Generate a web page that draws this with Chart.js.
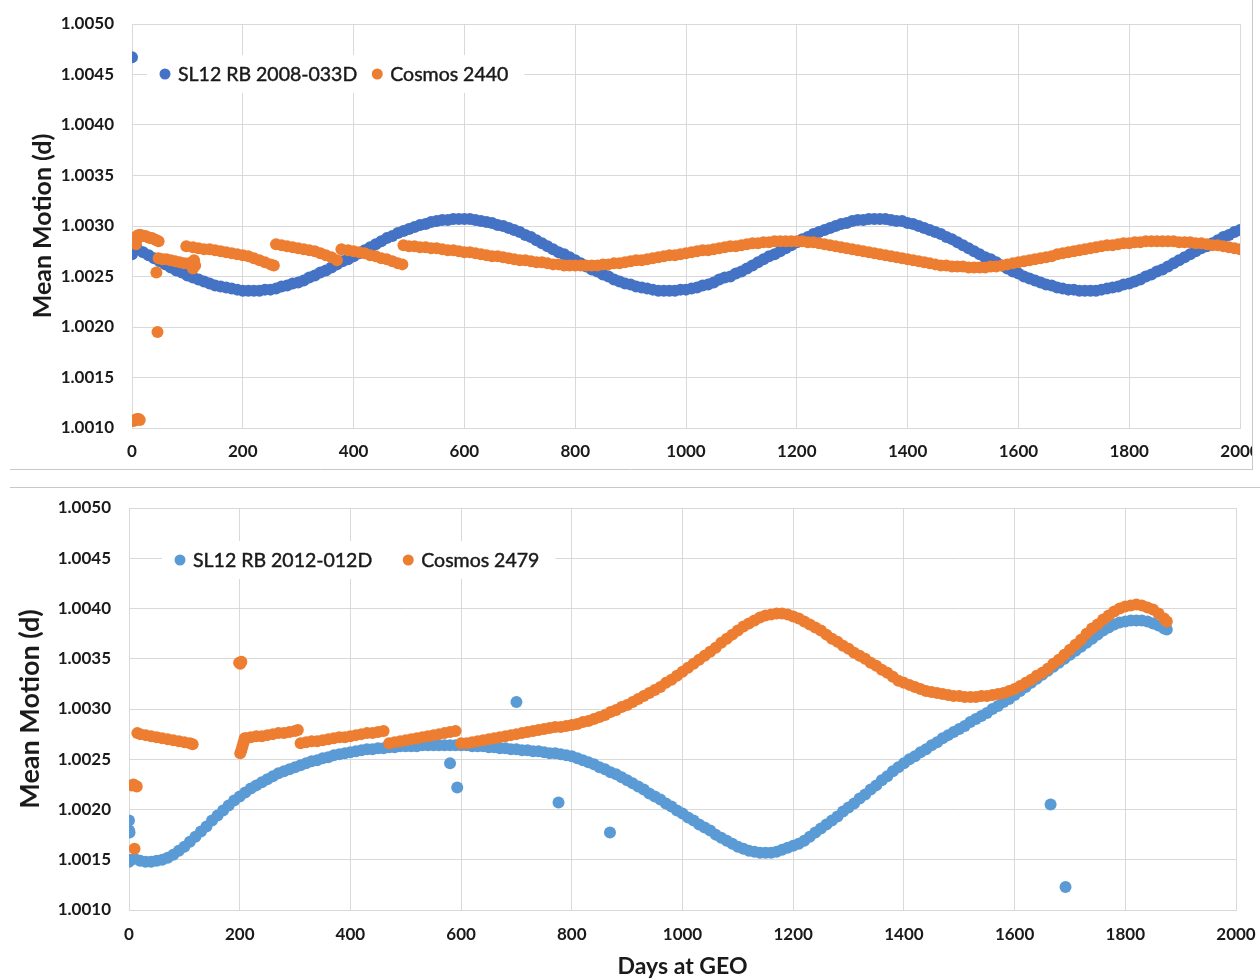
<!DOCTYPE html>
<html>
<head>
<meta charset="utf-8">
<title>Mean Motion at GEO</title>
<script src="https://cdn.jsdelivr.net/npm/chart.js@4.4.1/dist/chart.umd.min.js"></script>
<style>
  html, body { margin: 0; padding: 0; background: #ffffff; }
  #wrap { position: relative; width: 1260px; height: 980px; overflow: hidden; }
  canvas { position: absolute; left: 0; }
  #topChart { top: -10px; }
  #bottomChart { top: 470px; }
</style>
</head>
<body>
<div id="wrap">
  <canvas id="topChart" width="1290" height="480"></canvas>
  <canvas id="bottomChart" width="1290" height="510"></canvas>
</div>
<script>
// ---------- Upper panel: SL12 RB 2008-033D and Cosmos 2440 ----------
const topDays = [
  0,10,20,30,40,50,60,70,80,90,100,110,120,130,140,150,160,170,180,190,
  200,210,220,230,240,250,260,270,280,290,300,310,320,330,340,350,360,370,380,390,
  400,410,420,430,440,450,460,470,480,490,500,510,520,530,540,550,560,570,580,590,
  600,610,620,630,640,650,660,670,680,690,700,710,720,730,740,750,760,770,780,790,
  800,810,820,830,840,850,860,870,880,890,900,910,920,930,940,950,960,970,980,990,
  1000,1010,1020,1030,1040,1050,1060,1070,1080,1090,1100,1110,1120,1130,1140,1150,1160,1170,1180,1190,
  1200,1210,1220,1230,1240,1250,1260,1270,1280,1290,1300,1310,1320,1330,1340,1350,1360,1370,1380,1390,
  1400,1410,1420,1430,1440,1450,1460,1470,1480,1490,1500,1510,1520,1530,1540,1550,1560,1570,1580,1590,
  1600,1610,1620,1630,1640,1650,1660,1670,1680,1690,1700,1710,1720,1730,1740,1750,1760,1770,1780,1790,
  1800,1810,1820,1830,1840,1850,1860,1870,1880,1890,1900,1910,1920,1930,1940,1950,1960,1970,1980,1990,
  2000
];

const sl12Rb2008Motion = [
  1.00279,1.00277,1.00274,1.00271,1.00268,1.00265,1.00262,1.00259,1.00256,1.00254,
  1.00251,1.00249,1.00247,1.00245,1.00243,1.00241,1.00240,1.00239,1.00238,1.00237,
  1.00236,1.00236,1.00236,1.00236,1.00237,1.00237,1.00238,1.00240,1.00241,1.00243,
  1.00244,1.00246,1.00249,1.00251,1.00254,1.00256,1.00259,1.00262,1.00265,1.00267,
  1.00270,1.00273,1.00276,1.00279,1.00282,1.00285,1.00288,1.00290,1.00293,1.00295,
  1.00297,1.00299,1.00301,1.00302,1.00304,1.00305,1.00306,1.00306,1.00307,1.00307,
  1.00307,1.00307,1.00306,1.00305,1.00304,1.00303,1.00301,1.00300,1.00298,1.00296,
  1.00294,1.00291,1.00289,1.00286,1.00283,1.00280,1.00277,1.00274,1.00272,1.00269,
  1.00266,1.00263,1.00260,1.00257,1.00255,1.00252,1.00250,1.00247,1.00245,1.00243,
  1.00242,1.00240,1.00239,1.00238,1.00237,1.00236,1.00236,1.00236,1.00236,1.00237,
  1.00237,1.00238,1.00239,1.00241,1.00242,1.00244,1.00247,1.00249,1.00250,1.00253,
  1.00255,1.00258,1.00261,1.00264,1.00267,1.00270,1.00272,1.00275,1.00278,1.00281,
  1.00284,1.00287,1.00289,1.00292,1.00294,1.00296,1.00298,1.00300,1.00302,1.00303,
  1.00305,1.00306,1.00306,1.00307,1.00307,1.00307,1.00307,1.00306,1.00305,1.00305,
  1.00303,1.00302,1.00300,1.00298,1.00296,1.00294,1.00292,1.00289,1.00287,1.00284,
  1.00281,1.00278,1.00275,1.00272,1.00269,1.00267,1.00264,1.00261,1.00258,1.00255,
  1.00253,1.00250,1.00248,1.00246,1.00244,1.00242,1.00241,1.00239,1.00238,1.00237,
  1.00237,1.00236,1.00236,1.00236,1.00236,1.00237,1.00238,1.00239,1.00240,1.00242,
  1.00243,1.00245,1.00247,1.00250,1.00252,1.00255,1.00257,1.00260,1.00263,1.00266,
  1.00269,1.00272,1.00275,1.00278,1.00280,1.00283,1.00286,1.00289,1.00291,1.00294,
  1.00296
];
const sl12Rb2008ExtraDays   = [0, 0, 0, 2];
const sl12Rb2008ExtraMotion = [1.00467, 1.00282, 1.00272, 1.00278];

// Station-keeping segments in the first ~490 days
const cosmos2440EarlyDays = [
  3,6,9,12,14,
  7,8,9,12,16,20,24,28,32,36,40,44,48,
  44,46,
  48,55,62,70,78,86,94,102,108,110,112,114,
  98,110,120,130,140,150,160,170,180,190,200,210,220,230,240,250,256,
  260,270,280,290,300,310,320,330,340,350,360,370,
  378,390,400,410,420,430,440,450,460,470,480,488
];
const cosmos2440EarlyMotion = [
  1.00107,1.00108,1.00109,1.00109,1.00108,
  1.00282,1.00286,1.00290,1.00291,1.00291,1.00290,1.00290,1.00289,1.00288,1.00288,1.00287,1.00286,1.00285,
  1.00254,1.00195,
  1.00268,1.00267,1.00267,1.00266,1.00265,1.00264,1.00263,1.00263,1.00262,1.00258,1.00266,1.00261,
  1.00280,1.00279,1.00278,1.00277,1.00277,1.00276,1.00275,1.00274,1.00273,1.00272,1.00271,1.00270,1.00268,1.00266,1.00264,1.00262,1.00261,
  1.00282,1.00281,1.00280,1.00279,1.00278,1.00277,1.00276,1.00275,1.00273,1.00271,1.00269,1.00266,
  1.00277,1.00276,1.00275,1.00274,1.00273,1.00271,1.00270,1.00268,1.00267,1.00265,1.00263,1.00262
];
const cosmos2440TailDays = topDays.slice(49);
const cosmos2440TailMotion = [
  1.00281,1.00280,1.00280,1.00279,1.00279,1.00278,1.00278,1.00277,1.00276,1.00276,1.00275,
  1.00274,1.00274,1.00273,1.00272,1.00271,1.00270,1.00270,1.00269,1.00268,1.00267,
  1.00266,1.00266,1.00265,1.00264,1.00264,1.00263,1.00262,1.00262,1.00261,1.00261,
  1.00261,1.00261,1.00261,1.00261,1.00261,1.00262,1.00262,1.00263,1.00263,1.00264,
  1.00265,1.00266,1.00266,1.00267,1.00268,1.00269,1.00270,1.00271,1.00271,1.00272,
  1.00273,1.00274,1.00275,1.00276,1.00276,1.00277,1.00278,1.00279,1.00280,1.00280,
  1.00281,1.00282,1.00283,1.00283,1.00284,1.00284,1.00285,1.00285,1.00285,1.00285,
  1.00285,1.00285,1.00284,1.00284,1.00283,1.00282,1.00281,1.00280,1.00279,1.00278,
  1.00277,1.00276,1.00275,1.00274,1.00273,1.00272,1.00271,1.00270,1.00269,1.00268,
  1.00267,1.00266,1.00265,1.00264,1.00263,1.00262,1.00261,1.00261,1.00260,1.00260,
  1.00260,1.00259,1.00259,1.00259,1.00259,1.00260,1.00260,1.00261,1.00262,1.00263,
  1.00264,1.00265,1.00266,1.00267,1.00268,1.00269,1.00270,1.00272,1.00273,1.00274,
  1.00275,1.00276,1.00277,1.00278,1.00279,1.00280,1.00281,1.00281,1.00282,1.00283,
  1.00283,1.00284,1.00284,1.00285,1.00285,1.00285,1.00285,1.00285,1.00285,1.00284,
  1.00284,1.00284,1.00283,1.00283,1.00282,1.00281,1.00281,1.00280,1.00279,1.00278,
  1.00277
];

// ---------- Lower panel: SL12 RB 2012-012D and Cosmos 2479 ----------
const bottomDays = topDays.slice(0, 188);   // 0 … 1870

const sl12Rb2012Motion = [
  1.00150,1.00151,1.00149,1.00148,1.00148,1.00149,1.00150,1.00152,1.00155,1.00159,
  1.00163,1.00168,1.00173,1.00178,1.00183,1.00189,1.00194,1.00199,1.00204,1.00209,
  1.00213,1.00217,1.00221,1.00224,1.00227,1.00230,1.00233,1.00236,1.00238,1.00240,
  1.00242,1.00244,1.00246,1.00248,1.00249,1.00251,1.00252,1.00254,1.00255,1.00256,
  1.00257,1.00258,1.00259,1.00260,1.00260,1.00261,1.00261,1.00262,1.00262,1.00263,
  1.00263,1.00263,1.00263,1.00264,1.00264,1.00264,1.00264,1.00264,1.00264,1.00264,
  1.00264,1.00264,1.00263,1.00263,1.00263,1.00262,1.00262,1.00261,1.00261,1.00260,
  1.00260,1.00259,1.00259,1.00258,1.00258,1.00257,1.00256,1.00256,1.00255,1.00254,
  1.00253,1.00251,1.00249,1.00247,1.00245,1.00242,1.00240,1.00237,1.00235,1.00232,
  1.00229,1.00226,1.00223,1.00220,1.00216,1.00213,1.00210,1.00206,1.00203,1.00199,
  1.00196,1.00192,1.00189,1.00185,1.00182,1.00179,1.00175,1.00172,1.00169,1.00166,
  1.00163,1.00161,1.00159,1.00158,1.00157,1.00157,1.00157,1.00158,1.00160,1.00162,
  1.00164,1.00166,1.00169,1.00173,1.00177,1.00181,1.00185,1.00189,1.00193,1.00198,
  1.00202,1.00206,1.00211,1.00215,1.00220,1.00224,1.00229,1.00233,1.00238,1.00242,
  1.00246,1.00250,1.00253,1.00257,1.00260,1.00264,1.00267,1.00271,1.00274,1.00277,
  1.00280,1.00283,1.00287,1.00290,1.00293,1.00296,1.00300,1.00303,1.00307,1.00310,
  1.00314,1.00318,1.00322,1.00326,1.00330,1.00334,1.00338,1.00342,1.00346,1.00350,
  1.00354,1.00358,1.00362,1.00366,1.00370,1.00374,1.00378,1.00381,1.00384,1.00386,
  1.00387,1.00388,1.00388,1.00388,1.00387,1.00385,1.00383,1.00380
];
const sl12Rb2012ExtraDays   = [0, 0, 1, 0, 580, 593, 700, 776, 869, 1665, 1692, 1875];
const sl12Rb2012ExtraMotion = [1.00189, 1.00179, 1.00177, 1.00148, 1.00246, 1.00222, 1.00307, 1.00207, 1.00177, 1.00205, 1.00123, 1.00379];

const cosmos2479EarlyDays = [
  5,8,11,14,10,
  15,20,30,40,50,60,70,80,90,100,110,115,
  199,201,203,
  201,203,205,207,209,
  212,220,230,240,250,260,270,280,290,300,305,
  310,320,330,340,350,360,370,380,390,400,410,420,430,440,450,460,
  470,480,490,500,510,520,530,540,550,560,570,580,590
];
const cosmos2479EarlyMotion = [
  1.00224,1.00225,1.00224,1.00223,1.00161,
  1.00276,1.00275,1.00274,1.00273,1.00272,1.00271,1.00270,1.00269,1.00268,1.00267,1.00266,1.00265,
  1.00346,1.00345,1.00347,
  1.00256,1.00259,1.00263,1.00267,1.00271,
  1.00271,1.00272,1.00273,1.00273,1.00274,1.00275,1.00276,1.00276,1.00277,1.00278,1.00279,
  1.00266,1.00267,1.00268,1.00268,1.00269,1.00270,1.00271,1.00272,1.00272,1.00273,1.00274,1.00275,1.00276,1.00276,1.00277,1.00278,
  1.00266,1.00267,1.00268,1.00269,1.00270,1.00271,1.00272,1.00273,1.00274,1.00275,1.00276,1.00277,1.00278
];
const cosmos2479TailDays = bottomDays.slice(60).concat([1875]);
const cosmos2479TailMotion = [
  1.00266,1.00266,1.00267,1.00268,1.00269,1.00270,1.00271,1.00272,1.00273,1.00274,
  1.00275,1.00276,1.00277,1.00278,1.00279,1.00280,1.00281,1.00282,1.00282,1.00283,
  1.00284,1.00285,1.00287,1.00288,1.00290,1.00292,1.00294,1.00297,1.00299,1.00302,
  1.00304,1.00307,1.00310,1.00313,1.00316,1.00319,1.00322,1.00326,1.00329,1.00333,
  1.00337,1.00341,1.00345,1.00349,1.00353,1.00357,1.00361,1.00366,1.00370,1.00374,
  1.00378,1.00382,1.00385,1.00388,1.00391,1.00393,1.00394,1.00395,1.00395,1.00394,
  1.00392,1.00390,1.00387,1.00384,1.00381,1.00378,1.00374,1.00370,1.00367,1.00363,
  1.00360,1.00356,1.00353,1.00350,1.00346,1.00343,1.00339,1.00336,1.00332,1.00328,
  1.00326,1.00324,1.00322,1.00320,1.00318,1.00317,1.00316,1.00315,1.00314,1.00313,
  1.00313,1.00312,1.00312,1.00312,1.00313,1.00313,1.00314,1.00315,1.00316,1.00318,
  1.00320,1.00323,1.00326,1.00329,1.00333,1.00336,1.00340,1.00345,1.00349,1.00354,
  1.00359,1.00364,1.00369,1.00375,1.00380,1.00384,1.00389,1.00393,1.00397,1.00400,
  1.00402,1.00403,1.00404,1.00403,1.00401,1.00399,1.00395,1.00390,
  1.00387
];

// Axis labels
const yAxisTitle = 'Mean Motion (d)';
const xAxisTitle = 'Days at GEO';

// ---------- helpers ----------
function toPoints(days, values) {
  return days.map((d, i) => ({ x: d, y: values[i] }));
}

const INK = '#1a1a1a';
const GRID = '#d9d9d9';
const FONT = 'Lato, "Open Sans", "Liberation Sans", sans-serif';
const DOT = 6;

// Legend drawn inside the plot on a white box, Excel style
const boxLegend = {
  id: 'boxLegend',
  afterDatasetsDraw(chart, args, opts) {
    const ctx = chart.ctx;
    ctx.save();
    ctx.font = `${opts.fontSize}px ${FONT}`;
    const items = chart.data.datasets.map(ds => ({
      label: ds.label, color: ds.backgroundColor, w: ctx.measureText(ds.label).width
    }));
    let end = opts.markerX;
    items.forEach((it, i) => {
      it.mx = end;
      end = it.mx + opts.textOffset + it.w;
      if (i < items.length - 1) end += opts.itemGap;
    });
    ctx.fillStyle = '#ffffff';
    ctx.fillRect(opts.boxLeft, opts.y - opts.boxH / 2, end + opts.boxPadRight - opts.boxLeft, opts.boxH);
    ctx.textBaseline = 'middle';
    ctx.textAlign = 'left';
    items.forEach(it => {
      ctx.fillStyle = it.color;
      ctx.beginPath();
      ctx.arc(it.mx, opts.y, opts.r, 0, Math.PI * 2);
      ctx.fill();
      ctx.fillStyle = INK;
      ctx.strokeStyle = INK;
      ctx.lineWidth = 0.45;
      ctx.fillText(it.label, it.mx + opts.textOffset, opts.y + 1);
      ctx.strokeText(it.label, it.mx + opts.textOffset, opts.y + 1);
    });
    ctx.restore();
  }
};

// Thin outline strokes around each panel
const panelFrame = {
  id: 'panelFrame',
  afterDraw(chart, args, opts) {
    const ctx = chart.ctx;
    ctx.save();
    if (opts.clipRight != null) {
      ctx.fillStyle = '#ffffff';
      ctx.fillRect(opts.clipRight, 0, chart.width - opts.clipRight, chart.height);
    }
    ctx.strokeStyle = '#c8c8c8';
    ctx.lineWidth = 1;
    (opts.lines || []).forEach(l => {
      ctx.beginPath();
      ctx.moveTo(l[0], l[1]);
      ctx.lineTo(l[2], l[3]);
      ctx.stroke();
    });
    ctx.restore();
  }
};

function panelConfig(p) {
  return {
    type: 'scatter',
    data: {
      datasets: [
        { label: p.labels[0], data: p.series[0], backgroundColor: p.colors[0],
          pointRadius: DOT, pointHoverRadius: DOT, pointBorderWidth: 0, order: 2 },
        { label: p.labels[1], data: p.series[1], backgroundColor: p.colors[1],
          pointRadius: DOT, pointHoverRadius: DOT, pointBorderWidth: 0, order: 1 }
      ]
    },
    options: {
      responsive: false,
      animation: false,
      events: [],
      layout: { padding: { left: 0, top: p.padTop, right: p.padRight, bottom: 0 } },
      plugins: {
        legend: { display: false },
        tooltip: { enabled: false },
        boxLegend: p.legend,
        panelFrame: p.frame
      },
      scales: {
        x: {
          type: 'linear', min: 0, max: 2000,
          ticks: { stepSize: 200, padding: p.xTickPad, color: INK, maxRotation: 0,
                   font: { family: FONT, size: 17, weight: 'bold' },
                   callback: v => String(v) },
          grid: { color: GRID, lineWidth: 1, drawTicks: false },
          border: { color: GRID, width: 1 },
          title: { display: !!p.xTitle, text: p.xTitle || '', color: INK,
                   font: { family: FONT, size: 23, weight: 'bold' }, padding: { top: 0, bottom: 0 } },
          afterFit(scale) { scale.height = p.xHeight; }
        },
        y: {
          type: 'linear', min: 1.001, max: 1.005,
          ticks: { stepSize: 0.0005, padding: 18, color: INK,
                   font: { family: FONT, size: 17, weight: 'bold' },
                   callback: v => v.toFixed(4) },
          grid: { color: GRID, lineWidth: 1, drawTicks: false },
          border: { color: GRID, width: 1 },
          title: { display: true, text: yAxisTitle, color: INK,
                   font: { family: FONT, size: p.yTitleSize, weight: 'bold' }, padding: { top: p.yTitlePad, bottom: 0 } },
          afterFit(scale) { scale.width = p.yWidth; }
        }
      }
    },
    plugins: [boxLegend, panelFrame]
  };
}

new Chart(document.getElementById('topChart'), panelConfig({
  labels: ['SL12 RB 2008-033D', 'Cosmos 2440'],
  colors: ['#4472C4', '#ED7D31'],
  series: [
    toPoints(topDays, sl12Rb2008Motion).concat(toPoints(sl12Rb2008ExtraDays, sl12Rb2008ExtraMotion)),
    toPoints(cosmos2440EarlyDays, cosmos2440EarlyMotion).concat(toPoints(cosmos2440TailDays, cosmos2440TailMotion))
  ],
  padTop: 34, padRight: 50, xHeight: 42, xTickPad: 13, yWidth: 132,
  yTitleSize: 25, yTitlePad: 28,
  legend: { markerX: 165, y: 84, r: 5.5, textOffset: 13, itemGap: 20, fontSize: 19.5,
            boxLeft: 147, boxH: 38, boxPadRight: 16 },
  frame: { clipRight: 1253, lines: [[1252.5, 0, 1252.5, 479.5], [10, 479.5, 1253, 479.5]] }
}));

new Chart(document.getElementById('bottomChart'), panelConfig({
  labels: ['SL12 RB 2012-012D', 'Cosmos 2479'],
  colors: ['#5B9BD5', '#ED7D31'],
  series: [
    toPoints(bottomDays, sl12Rb2012Motion).concat(toPoints(sl12Rb2012ExtraDays, sl12Rb2012ExtraMotion)),
    toPoints(cosmos2479EarlyDays, cosmos2479EarlyMotion).concat(toPoints(cosmos2479TailDays, cosmos2479TailMotion))
  ],
  padTop: 38, padRight: 54, xHeight: 70, xTickPad: 14, yWidth: 129,
  yTitleSize: 27, yTitlePad: 14,
  xTitle: xAxisTitle,
  legend: { markerX: 180, y: 90, r: 5.5, textOffset: 13, itemGap: 36, fontSize: 19.5,
            boxLeft: 162, boxH: 38, boxPadRight: 16 },
  frame: { clipRight: null, lines: [[10, 17.5, 1290, 17.5]] }
}));
</script>
</body>
</html>
